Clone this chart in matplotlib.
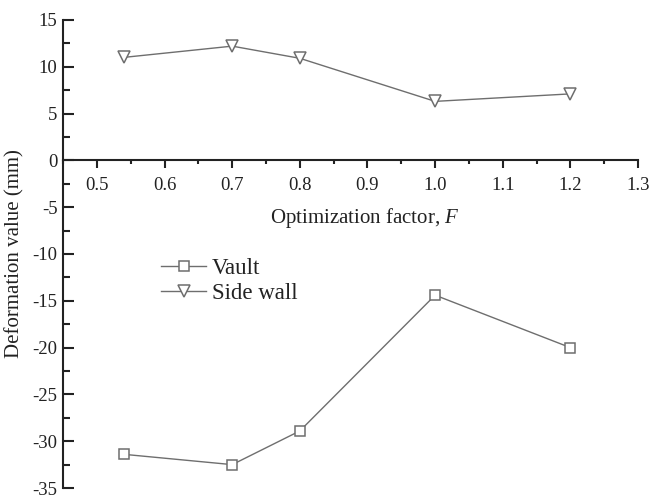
import matplotlib
matplotlib.use("Agg")
import matplotlib.pyplot as plt
from matplotlib.ticker import MultipleLocator

plt.rcParams['font.family'] = ['Liberation Serif', 'DejaVu Serif']
plt.rcParams['mathtext.fontset'] = 'custom'
plt.rcParams['mathtext.it'] = 'Liberation Serif:italic'

# data
factor = [0.54, 0.7, 0.8, 1.0, 1.2]
vault = [-31.4, -32.5, -28.9, -14.4, -20.0]
side_wall = [11.0, 12.2, 10.9, 6.3, 7.1]
x_ticks = [0.5, 0.6, 0.7, 0.8, 0.9, 1.0, 1.1, 1.2, 1.3]
y_ticks = [15, 10, 5, 0, -5, -10, -15, -20, -25, -30, -35]

LINE = '#6e6e6e'
INK = '#222222'

fig = plt.figure(figsize=(6.51, 4.98), dpi=100, facecolor='white')
ax = fig.add_axes([0.097, 0.02, 0.883, 0.94])

ax.plot(factor, vault, '-', color=LINE, lw=1.0, marker='s', ms=6.5,
        mfc='white', mec=LINE, mew=1.1, label='Vault')
ax.plot(factor, side_wall, '-', color=LINE, lw=1.0, marker='v', ms=8,
        mfc='white', mec=LINE, mew=1.1, label='Side wall')

ax.set_xlim(0.45, 1.3)
ax.set_ylim(-35, 15)

ax.spines['top'].set_visible(False)
ax.spines['right'].set_visible(False)
ax.spines['bottom'].set_position(('data', 0))
for side in ['left', 'bottom']:
    ax.spines[side].set_linewidth(1.5)
    ax.spines[side].set_color(INK)

ax.set_xticks(x_ticks)
ax.set_xticklabels(['%.1f' % v for v in x_ticks])
ax.set_yticks(y_ticks)
ax.set_yticklabels(['%d' % v for v in y_ticks])
ax.xaxis.set_minor_locator(MultipleLocator(0.05))
ax.yaxis.set_minor_locator(MultipleLocator(2.5))

ax.tick_params(axis='x', which='major', direction='out', length=6, width=1.5,
               labelsize=13.5, pad=6, color=INK, labelcolor=INK)
ax.tick_params(axis='x', which='minor', direction='out', length=3, width=1.5,
               color=INK)
ax.tick_params(axis='y', which='major', direction='in', length=8, width=1.5,
               labelsize=13.5, pad=4, color=INK, labelcolor=INK)
ax.tick_params(axis='y', which='minor', direction='in', length=5, width=1.5,
               color=INK)

ax.set_xlabel('Optimization factor, $\\mathit{F}$', fontsize=15, color=INK)
ax.xaxis.set_label_coords(0.525, 0.602)
ax.set_ylabel('Deformation value (mm)', fontsize=15, color=INK)
ax.yaxis.set_label_coords(-0.068, 0.5)

ax.legend(loc='upper left', bbox_to_anchor=(0.143, 0.525), frameon=False,
          fontsize=16.5, handlelength=1.95, handletextpad=0.25,
          labelspacing=0.15, borderpad=0.2, labelcolor=INK)

fig.savefig('out.png', dpi=100, facecolor='white')
